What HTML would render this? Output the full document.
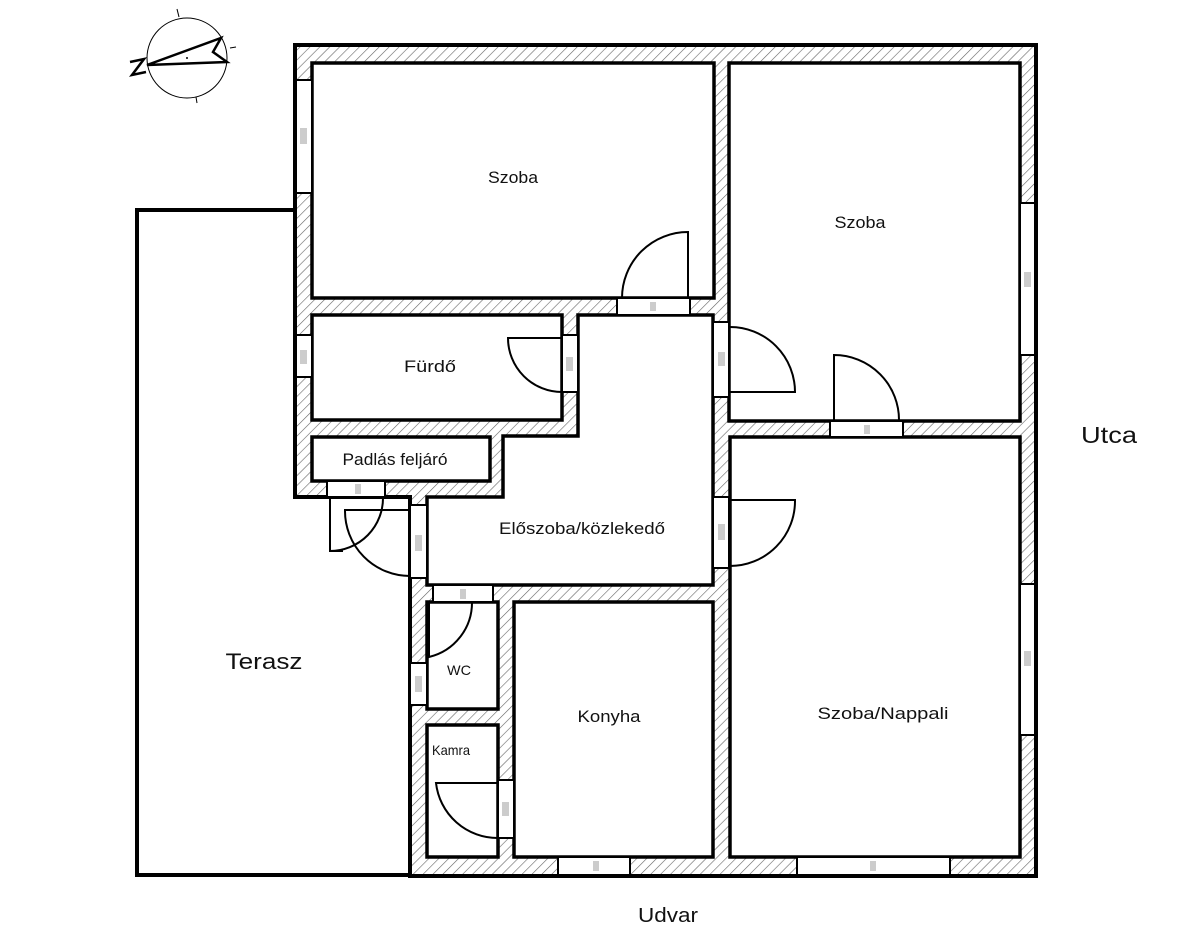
<!DOCTYPE html>
<html><head><meta charset="utf-8"><style>
html,body{margin:0;padding:0;background:#fff;}
svg{display:block;}
text{font-family:"Liberation Sans",sans-serif;fill:#111;}
</style></head><body>
<svg width="1200" height="933" viewBox="0 0 1200 933" xmlns="http://www.w3.org/2000/svg">
<defs>
<pattern id="h" width="7" height="7" patternUnits="userSpaceOnUse" patternTransform="rotate(45)">
<rect width="7" height="7" fill="#fff"/>
<line x1="0" y1="0" x2="0" y2="7" stroke="#666" stroke-width="1.2"/>
</pattern>
</defs>
<rect width="1200" height="933" fill="#fff"/>
<path d="M295,210 H137 V875 H410" fill="none" stroke="#000" stroke-width="4"/>
<path d="M295,45 H1036 V876 H410 V497 H295 Z" fill="url(#h)" stroke="#000" stroke-width="4"/>
<g fill="#fff" stroke="#000" stroke-width="3.5">
<rect x="312" y="63" width="402" height="235"/>
<rect x="729" y="63" width="291" height="358"/>
<rect x="312" y="315" width="250" height="105"/>
<rect x="312" y="437" width="178" height="44"/>
<path d="M578,315 H713 V585 H427 V497 H503 V436 H578 Z"/>
<rect x="730" y="437" width="290" height="420"/>
<rect x="427" y="602" width="71" height="107"/>
<rect x="427" y="725" width="71" height="132"/>
<rect x="514" y="602" width="199" height="255"/>
</g>
<g fill="#fff" stroke="#000" stroke-width="2">
<rect x="296" y="80" width="16" height="113"/>
<rect x="296" y="335" width="16" height="42"/>
<rect x="617" y="298" width="73" height="17"/>
<rect x="562" y="335" width="16" height="57"/>
<rect x="327" y="481" width="58" height="16"/>
<rect x="410" y="505" width="17" height="73"/>
<rect x="713" y="322" width="16" height="75"/>
<rect x="830" y="421" width="73" height="16"/>
<rect x="713" y="497" width="16" height="71"/>
<rect x="433" y="585" width="60" height="17"/>
<rect x="410" y="663" width="17" height="42"/>
<rect x="498" y="780" width="16" height="58"/>
<rect x="558" y="857" width="72" height="18"/>
<rect x="797" y="857" width="153" height="18"/>
<rect x="1020" y="203" width="15" height="152"/>
<rect x="1020" y="584" width="15" height="151"/>
</g>
<g fill="#ccc">
<rect x="300" y="128" width="7" height="16"/>
<rect x="300" y="350" width="7" height="14"/>
<rect x="650" y="302" width="6" height="9"/>
<rect x="566" y="357" width="7" height="14"/>
<rect x="355" y="484" width="6" height="10"/>
<rect x="415" y="535" width="7" height="16"/>
<rect x="718" y="352" width="7" height="14"/>
<rect x="864" y="425" width="6" height="9"/>
<rect x="718" y="524" width="7" height="16"/>
<rect x="460" y="589" width="6" height="10"/>
<rect x="415" y="676" width="7" height="16"/>
<rect x="502" y="802" width="7" height="14"/>
<rect x="593" y="861" width="6" height="10"/>
<rect x="870" y="861" width="6" height="10"/>
<rect x="1024" y="272" width="7" height="15"/>
<rect x="1024" y="651" width="7" height="15"/>
</g>
<g fill="none" stroke="#000" stroke-width="2">
<path d="M688,298 V232 A66,66 0 0 0 622,298"/>
<path d="M562,338 H508 A54,54 0 0 0 562,392"/>
<path d="M330,497 V551 H343 M330,551 A53,53 0 0 0 383,497"/>
<path d="M410,510 H345 A65,65 0 0 0 410,576"/>
<path d="M730,392 H795 A65,65 0 0 0 730,327"/>
<path d="M834,421 V355 A65,65 0 0 1 899,421"/>
<path d="M730,500 H795 A65,65 0 0 1 730,566"/>
<path d="M429,602 V657 A56,56 0 0 0 472,602"/>
<path d="M498,783 H436 A62,62 0 0 0 498,838"/>
</g>
<g stroke="#000" fill="none">
<circle cx="187" cy="58" r="40" stroke-width="1"/>
<line x1="177" y1="9" x2="179" y2="17" stroke-width="1"/>
<line x1="230" y1="48" x2="236" y2="47" stroke-width="1"/>
<line x1="196" y1="97" x2="197" y2="103" stroke-width="1"/>
<path d="M147,65 L221,38 L213,52 L227,62 Z" stroke-width="2.5" stroke-linejoin="miter"/>
<path d="M130,62 L144,59 L132,75 L146,72" stroke-width="2.5"/>
</g>
<circle cx="187" cy="58" r="1" fill="#000"/>
<g font-size="17" text-anchor="middle" lengthAdjust="spacingAndGlyphs">
<text x="513" y="183" textLength="50" lengthAdjust="spacingAndGlyphs">Szoba</text>
<text x="860" y="228" textLength="51" lengthAdjust="spacingAndGlyphs">Szoba</text>
<text x="430" y="372" textLength="52" lengthAdjust="spacingAndGlyphs">Fürdő</text>
<text x="395" y="465" textLength="105" lengthAdjust="spacingAndGlyphs">Padlás feljáró</text>
<text x="582" y="534" textLength="166" lengthAdjust="spacingAndGlyphs">Előszoba/közlekedő</text>
<text x="459" y="675" font-size="14" textLength="24" lengthAdjust="spacingAndGlyphs">WC</text>
<text x="451" y="755" font-size="14" textLength="38" lengthAdjust="spacingAndGlyphs">Kamra</text>
<text x="609" y="722" textLength="63" lengthAdjust="spacingAndGlyphs">Konyha</text>
<text x="883" y="719" textLength="131" lengthAdjust="spacingAndGlyphs">Szoba/Nappali</text>
<text x="264" y="669" font-size="22" textLength="77" lengthAdjust="spacingAndGlyphs">Terasz</text>
<text x="1109" y="443" font-size="23" textLength="56" lengthAdjust="spacingAndGlyphs">Utca</text>
<text x="668" y="922" font-size="20" textLength="60" lengthAdjust="spacingAndGlyphs">Udvar</text>
</g>
</svg>
</body></html>
